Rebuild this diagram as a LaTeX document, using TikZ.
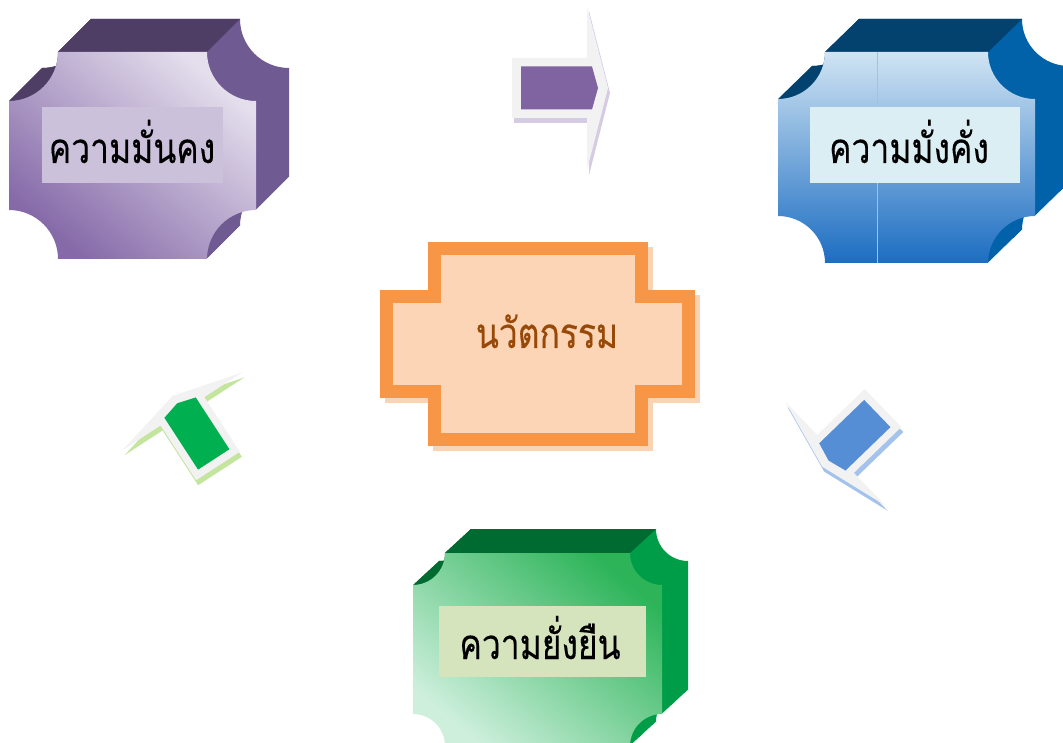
\documentclass[tikz,border=0pt]{standalone}
\usepackage{fontspec}
\newfontfamily\thaifont[Script=Thai, FakeStretch=0.8, FakeBold=0.3]{Loma}
\definecolor{purpletop}{HTML}{4E3D64}
\definecolor{purpleside}{HTML}{6F5A91}
\definecolor{purplelabel}{HTML}{CCC1DA}
\definecolor{purplearrow}{HTML}{8064A2}
\definecolor{purpletint}{HTML}{D5CBE3}
\definecolor{purplehi}{HTML}{E5DFED}
\definecolor{purplemid}{HTML}{B8ACCD}
\definecolor{purplelo}{HTML}{8569A8}
\definecolor{bluetop}{HTML}{03426F}
\definecolor{blueside}{HTML}{0162A9}
\definecolor{bluelabel}{HTML}{DBEEF4}
\definecolor{bluearrow}{HTML}{558ED5}
\definecolor{bluetint}{HTML}{A3C3EC}
\definecolor{bluehi}{HTML}{D0E4F3}
\definecolor{bluemid}{HTML}{96BAE1}
\definecolor{bluelo}{HTML}{1C6DC2}
\definecolor{blueseam}{HTML}{A0C3E4}
\definecolor{greentop}{HTML}{006B31}
\definecolor{greenside}{HTML}{009D48}
\definecolor{greenlabel}{HTML}{D6E4BE}
\definecolor{greenarrow}{HTML}{00B050}
\definecolor{greentint}{HTML}{C4E59E}
\definecolor{greenhi}{HTML}{CDEFDC}
\definecolor{greenmid}{HTML}{75C88F}
\definecolor{greenlo}{HTML}{2DB459}
\definecolor{arrowgrey}{HTML}{F2F2F2}
\definecolor{orangeline}{HTML}{F79646}
\definecolor{orangefill}{HTML}{FBD5B5}
\definecolor{orangeshadow}{HTML}{FAD3B2}
\definecolor{orangetext}{HTML}{984807}
\begin{document}
\begin{tikzpicture}[x=1pt,y=-1pt,line join=miter,
  plaquepath/.style n args={5}{insert path={(#1+#5,#2) -- (#3-#5,#2)
    arc[start angle=180,end angle=90,radius=#5] -- (#3,#4-#5)
    arc[start angle=270,end angle=180,radius=#5] -- (#1+#5,#4)
    arc[start angle=0,end angle=-90,radius=#5] -- (#1,#2+#5)
    arc[start angle=90,end angle=0,radius=#5] -- cycle}},
  innovpath/.style={insert path={(434,248.5) -- (641,248.5) -- (641,296.5) -- (688.5,296.5)
    -- (688.5,391.5) -- (641,391.5) -- (641,439.5) -- (434,439.5) -- (434,391.5)
    -- (386,391.5) -- (386,296.5) -- (434,296.5) -- cycle}},
  arrowback/.style={insert path={(0,-30) -- (75,-30) -- (75,-82) -- (96,0) -- (75,82) -- (75,30) -- (0,30) -- cycle}},
  arrowbody/.style={insert path={(9,-21.5) -- (80,-21.5) -- (86,0) -- (80,21.5) -- (9,21.5) -- cycle}},
  thaitext/.style={font=\fontsize{42}{44}\selectfont\thaifont, inner sep=0pt, anchor=base}]
\useasboundingbox (0,0) rectangle (1063,743);

% purple block
\foreach \k in {1,...,33}
  \fill[purpleside, shift={(\k,-\k)}, plaquepath={9}{52}{256}{259}{49}];
\fill[purpletop] (58,52) -- (207,52) -- (240,19) -- (91,19) -- cycle;
\fill[purpletop] (9,101) arc[start angle=90,end angle=0,radius=49] -- (91,19)
  arc[start angle=0,end angle=90,radius=49] -- cycle;
\shade[top color=purplehi, middle color=purplemid, bottom color=purplelo, shading angle=-40,
  plaquepath={9}{52}{256}{259}{49}];
\fill[purplelabel] (42,107) rectangle (223,183);
\node[thaitext] (secure) at (132,163) {ความมั่นคง};

% blue block
\foreach \k in {1,...,34}
  \fill[blueside, shift={(\k,-\k*33/34)}, plaquepath={778}{52}{1035}{263}{47}];
\fill[bluetop] (825,52) -- (988,52) -- (1022,19) -- (859,19) -- cycle;
\fill[bluetop] (778,99) arc[start angle=90,end angle=0,radius=47] -- (859,19)
  arc[start angle=0,end angle=90,radius=47] -- cycle;
\shade[top color=bluehi, middle color=bluemid, bottom color=bluelo,
  plaquepath={778}{52}{1035}{263}{47}];
\draw[blueseam, line width=0.8] (877,52) -- (877,263);
\fill[bluelabel] (810,107) rectangle (1020,183);
\node[thaitext] (wealth) at (909,163) {ความมั่งคั่ง};

% green block
\foreach \k in {1,...,26}
  \fill[greenside, shift={(\k,-\k*24/26)}, plaquepath={413}{553}{662}{746}{32}];
\fill[greentop] (445,553) -- (630,553) -- (656,529) -- (471,529) -- cycle;
\fill[greentop] (413,585) arc[start angle=90,end angle=0,radius=32] -- (471,529)
  arc[start angle=0,end angle=90,radius=32] -- cycle;
\shade[top color=greenlo, middle color=greenmid, bottom color=greenhi, shading angle=-40,
  plaquepath={413}{553}{662}{746}{32}];
\fill[greenlabel] (439,606) rectangle (646,677);
\node[thaitext] (sustain) at (540,659) {ความยั่งยืน};

% centre
\draw[orangeshadow, fill=orangeshadow, line width=13, shift={(5,5)}, innovpath];
\draw[orangeline, fill=orangefill, line width=13, innovpath];
\node[thaitext, text=orangetext] (innov) at (547,348) {นวัตกรรม};

% arrows
\begin{scope}[shift={(512,88)}]
  \fill[purpletint, shift={(2,5)}, arrowback];
  \fill[arrowgrey, arrowback];
  \fill[purplearrow, arrowbody];
\end{scope}
\begin{scope}[shift={(883,408)}]
  \fill[bluetint, shift={(2,5)}, rotate=224, scale=0.88, arrowback];
  \fill[arrowgrey, rotate=224, scale=0.88, arrowback];
  \fill[bluearrow, rotate=224, scale=0.88, arrowbody];
\end{scope}
\begin{scope}[shift={(218,466)}]
  \fill[greentint, shift={(2,5)}, rotate=123, scale=0.87, arrowback];
  \fill[arrowgrey, rotate=123, scale=0.87, arrowback];
  \fill[greenarrow, rotate=123, scale=0.87, arrowbody];
\end{scope}
\end{tikzpicture}
\end{document}
